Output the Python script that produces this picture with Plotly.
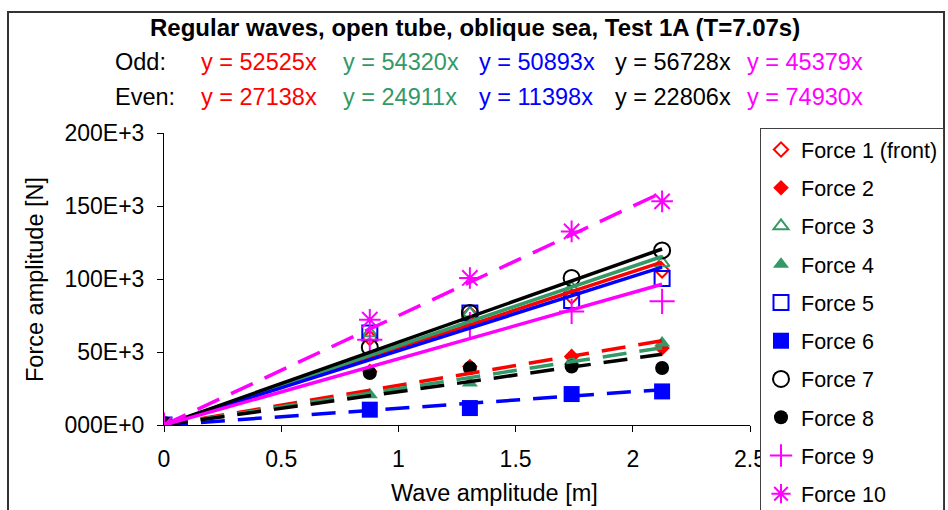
import plotly.graph_objects as go

# ---------------- data ----------------
wave_amp = [0, 0.878, 1.305, 1.739, 2.125]

force_names = ["Force 1 (front)", "Force 2", "Force 3", "Force 4", "Force 5",
               "Force 6", "Force 7", "Force 8", "Force 9", "Force 10"]

f1 = [0, 59600, 76000, 88000, 105900]
f2 = [0, 36700, 40100, 47000, 52700]
f3 = [0, 63000, 76500, 93800, 111000]
f4 = [0, 20700, 28800, 43600, 56200]
f5 = [0, 63000, 76700, 85300, 100400]
f6 = [0, 10500, 11600, 21200, 23000]
f7 = [0, 53200, 76700, 100700, 119600]
f8 = [0, 35600, 39000, 40100, 39000]
f9 = [0, 58400, 68700, 77800, 84700]
f10 = [0, 72100, 100700, 132600, 153200]
forces = [f1, f2, f3, f4, f5, f6, f7, f8, f9, f10]

# trendline slopes (y = a*x), odd and even sensors
odd_slopes = [52525, 54320, 50893, 56728, 45379]
even_slopes = [27138, 24911, 11398, 22806, 74930]

y_tickvals = [0, 50000, 100000, 150000, 200000]
y_ticktext = ["000E+0", "50E+3", "100E+3", "150E+3", "200E+3"]
x_tickvals = [0, 0.5, 1, 1.5, 2, 2.5]
x_ticktext = ["0", "0.5", "1", "1.5", "2", "2.5"]

# ---------------- styles ----------------
RED, GREEN, BLUE, BLACK, MAG = "#FF0000", "#339966", "#0000FF", "#000000", "#FF00FF"
pair_colors = [RED, GREEN, BLUE, BLACK, MAG]
symbols = ["diamond-open", "diamond", "triangle-up-open", "triangle-up", "square-open",
           "square", "circle-open", "circle", "cross-thin-open", "asterisk-open"]
sizes = [11, 12, 13, 14, 15, 16, 16, 14, 18, 18]
FONT = "Liberation Sans, Arial, sans-serif"
FS = 23.5

# plot area in pixels
L, R, T, B = 164, 750, 133, 425
def px(x):
    return (x - L) / (R - L)
def py(y):
    return (B - y) / (B - T)

fig = go.Figure()

# data markers
for i, (name, vals) in enumerate(zip(force_names, forces)):
    col = pair_colors[i // 2]
    fig.add_trace(go.Scatter(
        x=wave_amp, y=vals, mode="markers", name=name,
        legendgroup="g%d" % i,
        marker=dict(symbol=symbols[i], size=sizes[i], color=col,
                    line=dict(color=col, width=2 if "open" in symbols[i] else 0)),
    ))

# trendlines through origin
xmax = max(wave_amp)
for i in range(10):
    col = pair_colors[i // 2]
    slope = odd_slopes[i // 2] if i % 2 == 0 else even_slopes[i // 2]
    fig.add_trace(go.Scatter(
        x=[0, xmax], y=[0, slope * xmax], mode="lines", showlegend=False,
        hoverinfo="skip",
        line=dict(color=col, width=3.5, dash="solid" if i % 2 == 0 else "24px,13px"),
    ))

annotations = []
annotations.append(dict(text="<b>Regular waves, open tube, oblique sea, Test 1A (T=7.07s)</b>",
                        x=px(475), y=py(27), xanchor="center", yanchor="middle",
                        font=dict(size=24, color="black")))
annotations.append(dict(text="Odd:", x=px(113), y=py(62), xanchor="left", yanchor="middle",
                        font=dict(size=FS, color="black")))
annotations.append(dict(text="Even:", x=px(113), y=py(97), xanchor="left", yanchor="middle",
                        font=dict(size=FS, color="black")))
col_x = [199, 341, 477, 613, 745]
for j in range(5):
    annotations.append(dict(text="y = %dx" % odd_slopes[j], x=px(col_x[j]), y=py(62),
                            xanchor="left", yanchor="middle",
                            font=dict(size=FS, color=pair_colors[j])))
    annotations.append(dict(text="y = %dx" % even_slopes[j], x=px(col_x[j]), y=py(97),
                            xanchor="left", yanchor="middle",
                            font=dict(size=FS, color=pair_colors[j])))
annotations.append(dict(text="Wave amplitude [m]", x=px(494), y=py(493),
                        xanchor="center", yanchor="middle", font=dict(size=FS, color="black")))
annotations.append(dict(text="Force amplitude [N]", x=px(35), y=py(280), textangle=-90,
                        xanchor="center", yanchor="middle", font=dict(size=FS, color="black")))
for a in annotations:
    a.update(xref="paper", yref="paper", showarrow=False)

fig.update_layout(
    width=948, height=510,
    margin=dict(l=L, r=948 - R, t=T, b=510 - B, pad=0, autoexpand=False),
    paper_bgcolor="white", plot_bgcolor="white",
    font=dict(family=FONT, size=FS, color="black"),
    annotations=annotations,
    shapes=[dict(type="rect", xref="paper", yref="paper",
                 x0=px(8), x1=px(944), y0=py(530), y1=py(12),
                 line=dict(color="#333333", width=2), fillcolor="rgba(0,0,0,0)", layer="below")],
    legend=dict(x=px(760), y=py(128), xanchor="left", yanchor="top",
                bgcolor="white", bordercolor="#404040", borderwidth=1,
                font=dict(size=21.5, color="black"), tracegroupgap=7.3,
                itemclick=False, maxheight=800),
    xaxis=dict(range=[0, 2.5], tickvals=x_tickvals, ticktext=x_ticktext,
               showgrid=False, zeroline=False, showline=True, linecolor="black", linewidth=1,
               ticks="outside", ticklen=6, tickcolor="black", ticklabelstandoff=7,
               tickfont=dict(size=23)),
    yaxis=dict(range=[0, 200000], tickvals=y_tickvals, ticktext=y_ticktext,
               showgrid=False, zeroline=False, showline=True, linecolor="black", linewidth=1,
               ticks="outside", ticklen=6, tickcolor="black", ticklabelstandoff=8,
               tickfont=dict(size=23)),
)

fig.write_html("out.html")
